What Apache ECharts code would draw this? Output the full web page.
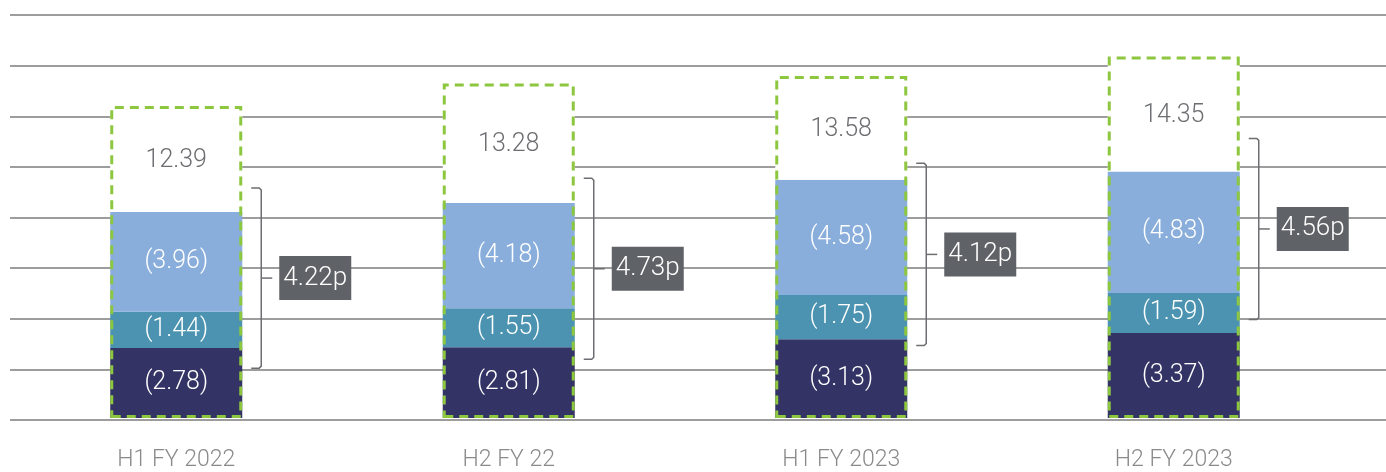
<!DOCTYPE html>
<html>
<head>
<meta charset="utf-8">
<script src="https://cdn.jsdelivr.net/npm/echarts@6/dist/echarts.min.js"></script>
<style>
  html, body { margin: 0; padding: 0; background: #fff; }
  #chart { width: 1386px; height: 472px; }
</style>
</head>
<body>
<div id="chart"></div>
<script>
// chart values
const periods = ['H1 FY 2022', 'H2 FY 22', 'H1 FY 2023', 'H2 FY 2023'];
const navyValues = [2.78, 2.81, 3.13, 3.37];
const tealValues = [1.44, 1.55, 1.75, 1.59];
const blueValues = [3.96, 4.18, 4.58, 4.83];
const totals = [12.39, 13.28, 13.58, 14.35];
const marginLabels = ['4.22p', '4.73p', '4.12p', '4.56p'];
const bracketHigh = [9.13, 9.52, 10.11, 11.10];
const bracketLow = [1.98, 2.33, 2.88, 3.91];

const FONT = 'Roboto, "Noto Sans", sans-serif';
const BAR_W = 132;

// white top part = total minus the coloured parts
const remainder = totals.map((t, i) =>
  +(t - navyValues[i] - tealValues[i] - blueValues[i]).toFixed(2));

const chart = echarts.init(document.getElementById('chart'));

function segLabel() {
  return {
    show: true,
    position: 'inside',
    color: '#ffffff',
    fontFamily: FONT,
    fontWeight: 300,
    fontSize: 25,
    formatter: p => '(' + p.value.toFixed(2) + ')'
  };
}

const option = {
  backgroundColor: '#ffffff',
  animation: false,
  grid: [
    { left: 10, width: 1330, top: 15, bottom: 52 },
    { left: 10, right: 0, top: 15, bottom: 52 }
  ],
  xAxis: [
    {
      type: 'category', gridIndex: 0, data: periods,
      axisLine: { show: false }, axisTick: { show: false },
      axisLabel: { color: '#8a8a8a', fontFamily: FONT, fontWeight: 300, fontSize: 23, margin: 31 }
    },
    { type: 'value', gridIndex: 1, show: false }
  ],
  yAxis: [
    { type: 'value', gridIndex: 0, min: 0, max: 16, interval: 2, show: false },
    {
      type: 'value', gridIndex: 1, min: 0, max: 16, interval: 2,
      axisLine: { show: false }, axisTick: { show: false }, axisLabel: { show: false },
      splitLine: { show: true, lineStyle: { color: '#7d7d7d', width: 1.5 } }
    }
  ],
  series: [
    {
      type: 'bar', stack: 'cost', barWidth: BAR_W, z: 3,
      data: navyValues, itemStyle: { color: '#333366' }, label: segLabel()
    },
    {
      type: 'bar', stack: 'cost', barWidth: BAR_W, z: 3,
      data: tealValues, itemStyle: { color: '#4b93b1' }, label: segLabel()
    },
    {
      type: 'bar', stack: 'cost', barWidth: BAR_W, z: 3,
      data: blueValues, itemStyle: { color: '#89aedc' }, label: segLabel()
    },
    {
      type: 'bar', stack: 'cost', barWidth: BAR_W, z: 3,
      data: remainder,
      itemStyle: { color: '#ffffff' },
      label: {
        show: true, position: 'inside', color: '#6d6e71', offset: [0, 2],
        fontFamily: FONT, fontWeight: 300, fontSize: 25,
        formatter: p => totals[p.dataIndex].toFixed(2)
      }
    },
    {
      // dashed outline round the whole bar
      type: 'bar', barWidth: BAR_W, barGap: '-100%', z: 4,
      data: totals,
      itemStyle: {
        color: 'rgba(0,0,0,0)', borderColor: '#8dc63f', borderWidth: 3,
        borderType: [9, 6]
      },
      silent: true
    },
    {
      type: 'custom', z: 5,
      data: periods.map((p, i) => [i, bracketHigh[i], bracketLow[i], marginLabels[i]]),
      encode: { x: 0, y: [1, 2] },
      renderItem: function (params, api) {
        const i = api.value(0);
        const top = api.coord([i, api.value(1)]);
        const bot = api.coord([i, api.value(2)]);
        const x0 = top[0] + BAR_W / 2;
        const vx = x0 + 19;
        const midY = (top[1] + bot[1]) / 2;
        const boxX = vx + 18;
        const lineStyle = { stroke: '#6d6e71', lineWidth: 1.5, fill: null };
        return {
          type: 'group',
          children: [
            {
              type: 'polyline',
              shape: { points: [[x0 + 9, top[1]], [vx - 2, top[1]], [vx, top[1] + 2],
                                [vx, bot[1] - 2], [vx - 2, bot[1]], [x0 + 9, bot[1]]] },
              style: lineStyle
            },
            {
              type: 'line',
              shape: { x1: vx, y1: midY, x2: vx + 11, y2: midY },
              style: lineStyle
            },
            {
              type: 'rect',
              shape: { x: boxX, y: midY - 22, width: 72, height: 44 },
              style: { fill: '#5f6266' }
            },
            {
              type: 'text',
              style: {
                x: boxX + 36, y: midY, text: api.value(3),
                align: 'center', verticalAlign: 'middle',
                fill: '#ffffff', font: '300 26px ' + FONT
              }
            }
          ]
        };
      }
    }
  ]
};

chart.setOption(option);

window.addEventListener('resize', function () {
  chart.resize();
});
</script>
</body>
</html>
